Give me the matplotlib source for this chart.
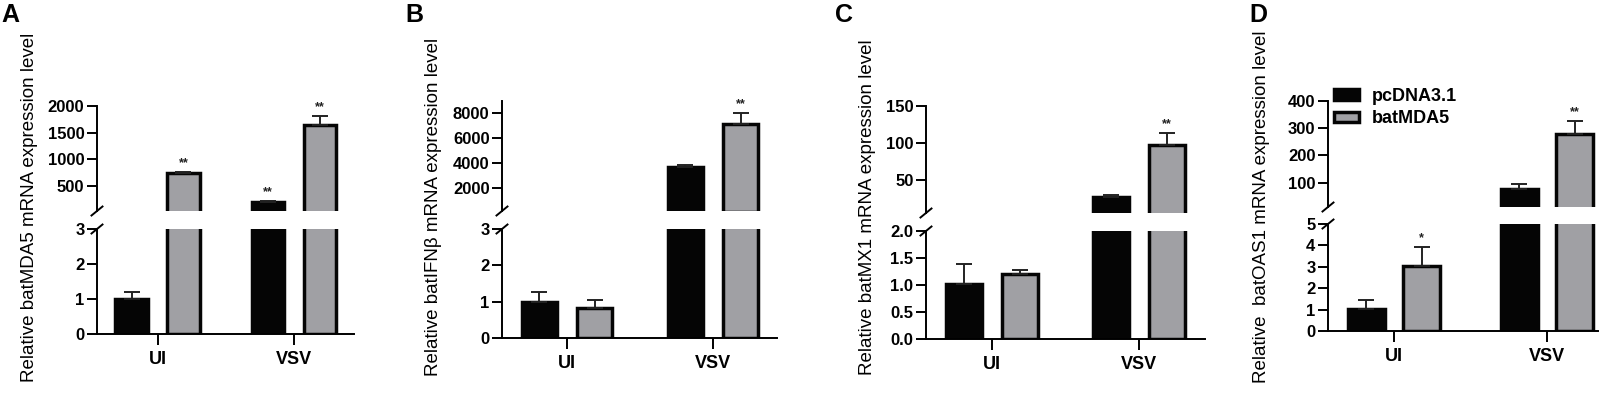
import matplotlib
matplotlib.use("Agg")
import matplotlib.pyplot as plt
from matplotlib.lines import Line2D
from matplotlib.patches import Patch

plt.rcParams['font.family'] = ['Liberation Sans', 'DejaVu Sans']

# ---------------- data ----------------
categories = ["UI", "VSV"]
series_names = ["pcDNA3.1", "batMDA5"]

# Panel A: batMDA5
mda5_pcdna = [1.0, 205]
mda5_pcdna_err = [0.2, 10]
mda5_bat = [745, 1640]
mda5_bat_err = [15, 175]
mda5_sig_pcdna = ["", "**"]
mda5_sig_bat = ["**", "**"]

# Panel B: batIFNβ
ifnb_pcdna = [1.0, 3650]
ifnb_pcdna_err = [0.27, 150]
ifnb_bat = [0.83, 7150]
ifnb_bat_err = [0.22, 880]
ifnb_sig_pcdna = ["", ""]
ifnb_sig_bat = ["", "**"]

# Panel C: batMX1
mx1_pcdna = [1.02, 27]
mx1_pcdna_err = [0.36, 3]
mx1_bat = [1.2, 97]
mx1_bat_err = [0.07, 17]
mx1_sig_pcdna = ["", ""]
mx1_sig_bat = ["", "**"]

# Panel D: batOAS1
oas1_pcdna = [1.05, 78]
oas1_pcdna_err = [0.38, 18]
oas1_bat = [3.02, 278]
oas1_bat_err = [0.92, 50]
oas1_sig_pcdna = ["", ""]
oas1_sig_bat = ["*", "**"]

ylabels = ["Relative batMDA5 mRNA expression level",
           "Relative batIFNβ mRNA expression level",
           "Relative batMX1 mRNA expression level",
           "Relative  batOAS1 mRNA expression level"]
panel_letters = ["A", "B", "C", "D"]

high_ticks = [[500, 1000, 1500, 2000], [2000, 4000, 6000, 8000], [50, 100, 150], [100, 200, 300, 400]]
low_ticks = [[0, 1, 2, 3], [0, 1, 2, 3], [0.0, 0.5, 1.0, 1.5, 2.0], [0, 1, 2, 3, 4, 5]]
low_fmt = ["{:g}", "{:g}", "{:.1f}", "{:g}"]
high_lims = [(30, 2000), (100, 9000), (5, 150), (10, 400)]
low_lims = [(0, 3), (0, 3), (0, 2.0), (0, 5)]

# ---------------- layout (pixels) ----------------
W, H = 1616, 405
# x_left, x_right, high_top, high_bottom, low_top, low_bottom, UI_tick_px, VSV_tick_px
layout = [
    (97, 354, 106, 211, 229, 334, 157.5, 294),
    (502, 777, 101, 211, 229, 338, 567, 713),
    (926, 1205, 106, 213, 231, 339, 992, 1139),
    (1328, 1598, 101, 207, 224, 331, 1394, 1547),
]
ylabel_x = [30, 433, 868, 1262]
letter_x = [1, 405, 835, 1249]

BLACK = "#050505"
GRAY = "#a0a0a4"
LW = 2.5

fig = plt.figure(figsize=(W / 100, H / 100), dpi=100)

panels = [
    (mda5_pcdna, mda5_pcdna_err, mda5_bat, mda5_bat_err, mda5_sig_pcdna, mda5_sig_bat),
    (ifnb_pcdna, ifnb_pcdna_err, ifnb_bat, ifnb_bat_err, ifnb_sig_pcdna, ifnb_sig_bat),
    (mx1_pcdna, mx1_pcdna_err, mx1_bat, mx1_bat_err, mx1_sig_pcdna, mx1_sig_bat),
    (oas1_pcdna, oas1_pcdna_err, oas1_bat, oas1_bat_err, oas1_sig_pcdna, oas1_sig_bat),
]

tick_font = dict(fontsize=12, fontweight='bold')


def draw_series(ax, xs, vals, errs, sigs, color, ylo):
    for x, v, e, s in zip(xs, vals, errs, sigs):
        if v < ylo:
            continue
        ax.bar([x], [v], width=0.24, color=color, edgecolor=BLACK, linewidth=LW, zorder=2)
        ax.errorbar([x], [v], yerr=[[0], [e]], fmt='none', ecolor="#222222",
                    elinewidth=1.4, capsize=6, capthick=1.4, zorder=3)
        if s and v + e <= ax.get_ylim()[1]:
            ax.annotate(s, (x, v + e), xytext=(0, 2), textcoords='offset points',
                        ha='center', va='bottom', fontsize=9, fontweight='bold', color="#222222")


for i, (pc, pce, bt, bte, sp, sb) in enumerate(panels):
    xl, xr, ht, hb, lt, lb, ui_px, vsv_px = layout[i]
    ppu = vsv_px - ui_px
    xlim = ((xl - ui_px) / ppu, (xr - ui_px) / ppu)
    ax_hi = fig.add_axes([xl / W, 1 - hb / H, (xr - xl) / W, (hb - ht) / H])
    ax_lo = fig.add_axes([xl / W, 1 - lb / H, (xr - xl) / W, (lb - lt) / H])
    ax_hi.set_ylim(*high_lims[i])
    ax_lo.set_ylim(*low_lims[i])
    off = 0.19 if i < 3 else 0.18
    xs = list(range(len(categories)))
    for ax in (ax_hi, ax_lo):
        ylo = ax.get_ylim()[0]
        draw_series(ax, [x - off for x in xs], pc, pce, sp, BLACK, ylo)
        draw_series(ax, [x + off for x in xs], bt, bte, sb, GRAY, ylo)
        ax.set_xlim(*xlim)
        for s in ('top', 'right'):
            ax.spines[s].set_visible(False)
        ax.spines['left'].set_linewidth(1.4)
        ax.spines['bottom'].set_linewidth(1.4)
        ax.tick_params(axis='y', direction='out', length=7, width=1.4, pad=2)
        ax.patch.set_alpha(0)
    ax_hi.set_ylim(*high_lims[i])
    ax_lo.set_ylim(*low_lims[i])
    ax_hi.spines['bottom'].set_visible(False)
    ax_hi.set_xticks([])
    ax_hi.set_yticks(high_ticks[i])
    ax_hi.set_yticklabels([str(t) for t in high_ticks[i]], **tick_font)
    ax_lo.set_yticks(low_ticks[i])
    ax_lo.set_yticklabels([low_fmt[i].format(t) for t in low_ticks[i]], **tick_font)
    ax_lo.set_xticks(xs)
    ax_lo.set_xticklabels(categories, fontsize=13, fontweight='bold')
    ax_lo.tick_params(axis='x', direction='out', length=8, width=1.4, pad=4)

    # break marks
    for yb in (hb, lt):
        fig.add_artist(Line2D([(xl - 5.5) / W, (xl + 5.5) / W],
                              [1 - (yb + 4.5) / H, 1 - (yb - 4.5) / H],
                              transform=fig.transFigure, color='black', lw=1.4))

    fig.text(ylabel_x[i] / W, 1 - 207 / H, ylabels[i], rotation=90, ha='center', va='center',
             fontsize=13.5)
    fig.text(letter_x[i] / W, 1 - 3 / H, panel_letters[i], ha='left', va='top',
             fontsize=18, fontweight='bold')

    if i == 3:
        handles = [Patch(facecolor=BLACK, edgecolor=BLACK, linewidth=LW),
                   Patch(facecolor=GRAY, edgecolor=BLACK, linewidth=LW)]
        fig.legend(handles, series_names, loc='upper left',
                   bbox_to_anchor=(1334 / W, 1 - 88 / H), frameon=False,
                   prop=dict(size=13, weight='bold'), handlelength=1.4,
                   handleheight=0.55, handletextpad=0.7, labelspacing=0.3,
                   borderpad=0, borderaxespad=0)

fig.savefig("out.png", dpi=100)
